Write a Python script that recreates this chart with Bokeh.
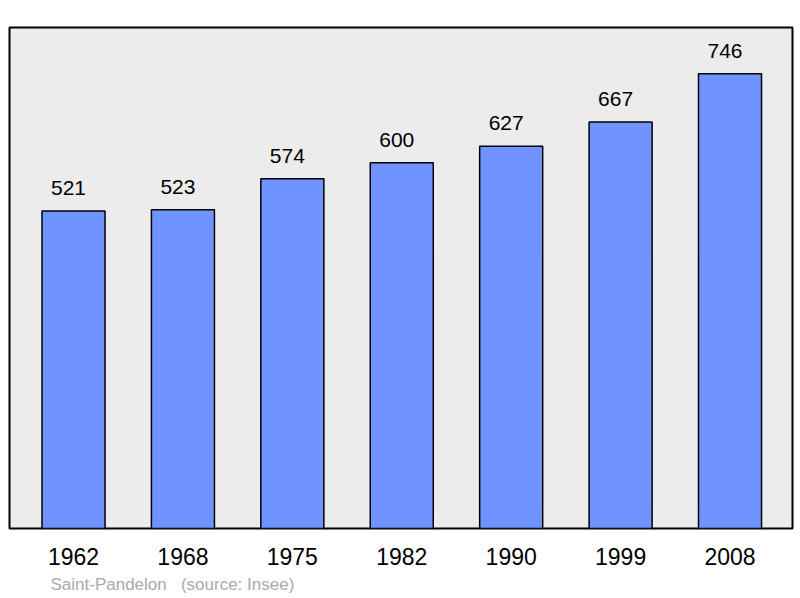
from bokeh.plotting import figure
from bokeh.models import FixedTicker, Title, ColumnDataSource, Range1d
from bokeh.embed import file_html
from bokeh.resources import INLINE
from bokeh.core.properties import value

years = ["1962", "1968", "1975", "1982", "1990", "1999", "2008"]
population = [521, 523, 574, 600, 627, 667, 746]
commune = "Saint-Pandelon"
source_text = "(source: Insee)"

xs = list(range(len(years)))
src = ColumnDataSource(dict(x=xs, top=population, lab=[str(v) for v in population]))

FONT = "Liberation Sans"

p = figure(width=794, height=598, output_backend="svg", toolbar_location=None,
           x_range=Range1d(-0.585, 6.571), y_range=Range1d(0, 822),
           min_border_left=9, min_border_right=2, min_border_top=27, min_border_bottom=70)
p.background_fill_color = "#ececec"
p.border_fill_color = "white"
p.outline_line_color = "black"
p.outline_line_width = 2
p.grid.visible = False
p.yaxis.visible = False

p.vbar(x="x", top="top", bottom=0, width=0.576, source=src,
       fill_color="#7094ff", line_color="black", line_width=1.5)
p.text(x="x", y="top", text="lab", source=src, text_align="center",
       text_baseline="alphabetic", y_offset=-23, x_offset=-5, text_font=value(FONT),
       text_font_size="21px", text_color="black")

ax = p.xaxis[0]
ax.ticker = FixedTicker(ticks=xs)
ax.major_label_overrides = {i: y for i, y in enumerate(years)}
ax.axis_line_color = None
ax.major_tick_line_color = None
ax.minor_tick_line_color = None
ax.major_label_text_font = FONT
ax.major_label_text_font_size = "23px"
ax.major_label_text_color = "black"
ax.major_label_standoff = 13

t = Title(text=commune + "\u00a0" * 3 + source_text, align="left", offset=41,
          text_font=FONT, text_font_size="17px", text_font_style="normal",
          text_color="#aaaaaa")
p.add_layout(t, "below")

open("out.html", "w").write(file_html(p, INLINE))
